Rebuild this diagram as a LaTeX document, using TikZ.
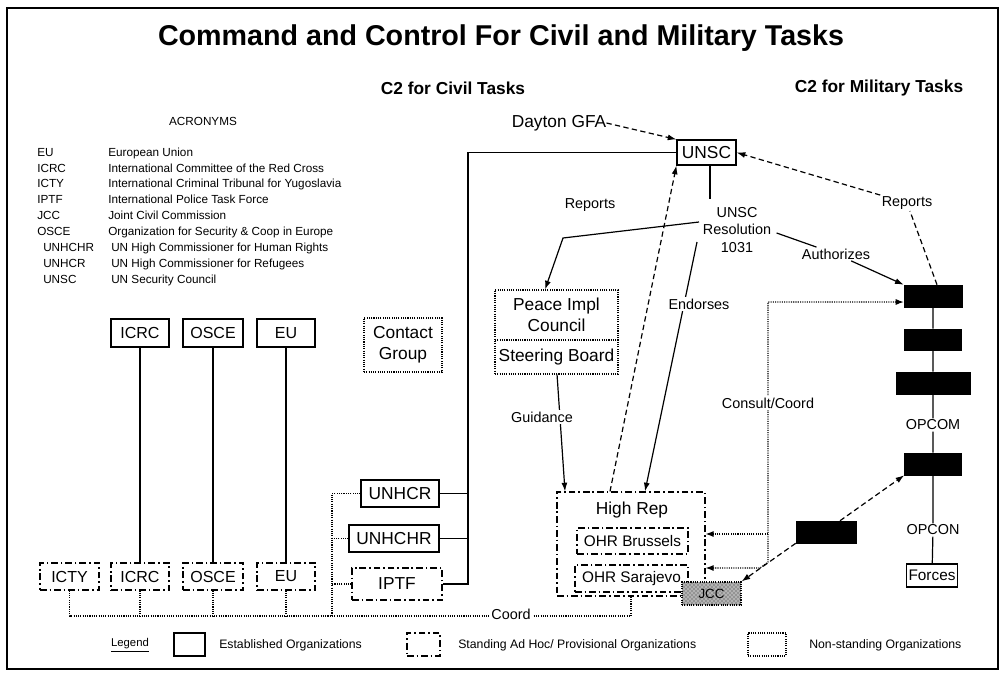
\documentclass[tikz,border=0pt]{standalone}
\usepackage{fontspec}
\setmainfont{Liberation Sans}
\usetikzlibrary{arrows.meta,patterns}
\begin{document}
\begin{tikzpicture}[x=0.75pt,y=-0.75pt,
  sz/.style 2 args={minimum width=#1*0.75pt, minimum height=#2*0.75pt},
  lbl/.style={inner sep=0pt, font=\fontsize{13}{15.6}\selectfont, align=center},
  sm/.style={inner sep=1pt, font=\fontsize{10.8}{13.1}\selectfont, align=center},
  acr/.style={inner sep=0pt, anchor=base west, font=\fontsize{8.8}{10}\selectfont},
  leg/.style={inner sep=0pt, anchor=west, font=\fontsize{9.2}{11}\selectfont},
  box/.style={draw, line width=0.9pt, inner sep=0pt, align=center, font=\fontsize{13}{15.6}\selectfont},
  est/.style={box},
  adhoc/.style={box, dash pattern=on 5pt off 2.2pt on 1.2pt off 2.2pt},
  nonst/.style={box, line width=0.8pt, dash pattern=on 0.8pt off 0.9pt},
  blk/.style={draw, fill=black, inner sep=0pt},
  link/.style={line width=0.9pt},
  arr/.style={-{Latex[length=6.5pt,width=4.5pt]}},
  dsh/.style={line width=0.9pt, dash pattern=on 4pt off 2.5pt},
  dots/.style={line width=0.8pt, dash pattern=on 0.8pt off 0.9pt}
]
\useasboundingbox (0,0) rectangle (1002,675);
\draw[line width=2.2pt] (7,8) rectangle (998,669);

% titles
\node[inner sep=0pt, font=\fontsize{21.5}{26}\selectfont\bfseries] (title) at (501,38) {Command and Control For Civil and Military Tasks};
\node[inner sep=0pt, font=\fontsize{13}{16}\selectfont\bfseries] (civ) at (453,88) {C2 for Civil Tasks};
\node[inner sep=0pt, font=\fontsize{13}{16}\selectfont\bfseries] (mil) at (879,88) {C2 for Military Tasks};

% acronyms
\node[inner sep=0pt, font=\fontsize{8.8}{10}\selectfont] (acrh) at (203,121) {ACRONYMS};
\node[acr] (a1) at (37,156) {EU};      \node[acr] (d1) at (108,156) {European Union};
\node[acr] (a2) at (37,172) {ICRC};    \node[acr] (d2) at (108,172) {International Committee of the Red Cross};
\node[acr] (a3) at (37,187) {ICTY};    \node[acr] (d3) at (108,187) {International Criminal Tribunal for Yugoslavia};
\node[acr] (a4) at (37,203) {IPTF};    \node[acr] (d4) at (108,203) {International Police Task Force};
\node[acr] (a5) at (37,219) {JCC};     \node[acr] (d5) at (108,219) {Joint Civil Commission};
\node[acr] (a6) at (37,235) {OSCE};    \node[acr] (d6) at (108,235) {Organization for Security \& Coop in Europe};
\node[acr] (a7) at (43,251) {UNHCHR};  \node[acr] (d7) at (111,251) {UN High Commissioner for Human Rights};
\node[acr] (a8) at (43,267) {UNHCR};   \node[acr] (d8) at (111,267) {UN High Commissioner for Refugees};
\node[acr] (a9) at (43,283) {UNSC};    \node[acr] (d9) at (111,283) {UN Security Council};

% civil boxes
\node[est, sz={59}{25}] (unsc) at (706.5,152.5) {UNSC};
\node[lbl] (dayton) at (559,123) {Dayton GFA};
\node[sm] (repC) at (590,205) {Reports};
\node[sm, inner sep=0pt] (res) at (737,230) {UNSC\\Resolution\\1031};

\node[est, sz={58}{28}, font=\fontsize{12}{14}\selectfont] (icrcT) at (140,333) {ICRC};
\node[est, sz={60}{28}, font=\fontsize{12}{14}\selectfont] (osceT) at (213,333) {OSCE};
\node[est, sz={58}{28}, font=\fontsize{12}{14}\selectfont] (euT) at (286,333) {EU};
\node[nonst, sz={78}{54}] (contact) at (403,345) {Contact\\Group};

\node[adhoc, sz={59}{27}, font=\fontsize{12}{14}\selectfont] (icty) at (69.5,576.5) {ICTY};
\node[adhoc, sz={58}{27}, font=\fontsize{12}{14}\selectfont] (icrcB) at (140,576.5) {ICRC};
\node[adhoc, sz={60}{27}, font=\fontsize{12}{14}\selectfont] (osceB) at (213,576.5) {OSCE};
\node[adhoc, sz={58}{27}, font=\fontsize{12}{14}\selectfont] (euB) at (286,576.5) {EU};

\node[est, sz={78}{27}] (unhcr) at (400,493.5) {UNHCR};
\node[est, sz={90}{27}] (unhchr) at (394,538.5) {UNHCHR};
\node[adhoc, sz={90}{32}] (iptf) at (397,584) {IPTF};

\node[nonst, sz={123}{50}] (pic1) at (556.5,315) {Peace Impl\\Council};
\node[nonst, sz={123}{34}] (pic2) at (556.5,357) {Steering Board};

\node[adhoc, sz={148}{104}] (highrep) at (631,544) {};
\node[lbl] (hrt) at (632,510) {High Rep};
\node[adhoc, sz={111}{26}, font=\fontsize{11.5}{14}\selectfont] (ohrb) at (632.5,541) {OHR Brussels};
\node[adhoc, sz={113}{27}, font=\fontsize{11.5}{14}\selectfont] (ohrs) at (631.5,578.5) {OHR Sarajevo};
\node[draw, line width=0.8pt, dash pattern=on 0.8pt off 0.9pt, preaction={fill=black!30}, pattern=crosshatch dots, pattern color=black!80, sz={59}{23}, inner sep=0pt, font=\fontsize{10}{12}\selectfont] (jcc) at (711.5,593.5) {JCC};

% military
\node[blk, sz={58}{22}] (b1) at (933,296) {};
\node[blk, sz={57}{21}] (b2) at (933,339.5) {};
\node[blk, sz={74}{22}] (b3) at (933,383) {};
\node[sm] (opcom) at (933,425) {OPCOM};
\node[blk, sz={57}{22}] (b4) at (933,464) {};
\node[sm] (opcon) at (933,530) {OPCON};
\node[est, sz={51}{23}, font=\fontsize{11.5}{14}\selectfont] (forces) at (932,575.5) {Forces};
\node[blk, sz={60}{22}] (b5) at (826,532) {};
\node[sm] (repM) at (907,203) {Reports};
\node[sm] (auth) at (836,254) {Authorizes};

% connectors: civil
\draw[dsh,arr] (dayton.east) -- (unsc.north west);
\coordinate (vbus) at (468,584);
\draw[link] (unsc.west) -| (vbus) -- (iptf.east);
\draw[link] (unhcr.east) -- (unhcr.east -| vbus);
\draw[link] (unhchr.east) -- (unhchr.east -| vbus);
\draw[link] ([xshift=2.6pt]unsc.south) -- ([xshift=2.6pt]unsc.south |- 0,199);

\coordinate (resW1) at (699,222);
\coordinate (bend1) at (563,238);
\draw[link,arr] (resW1) -- (bend1) -- ([xshift=-8.6pt]pic1.north);

\coordinate (resW2) at (697,242);
\draw[link,arr] (resW2) -- ([xshift=10.5pt]highrep.north);
\node[sm, fill=white, inner sep=1.5pt] (endo) at (699,304) {Endorses};

\draw[dsh,arr] ([xshift=-15.75pt]highrep.north) -- (unsc.south west);

\draw[link,arr] ([xshift=0.4pt]pic2.south) -- ([xshift=-49.5pt]highrep.north);
\node[sm, fill=white, inner sep=1.5pt] (guid) at (542,417) {Guidance};

\foreach \n in {icrc,osce,eu}{\draw[link] (\n T.south) -- (\n T.south |- \n B.north);}

% coord
\coordinate (cy) at (0,616);
\coordinate (vd) at (332,493);
\draw[dots] (icty.south) -- (icty.south |- cy) -- (highrep.south |- cy) -- (highrep.south);
\foreach \n in {icrcB,osceB,euB}{\draw[dots] (\n.south) -- (\n.south |- cy);}
\draw[dots] (unhcr.west) -- (unhcr.west -| vd) -- (vd |- cy);
\draw[dots] (unhchr.west) -- (unhchr.west -| vd);
\draw[dots] (iptf.west) -- (iptf.west -| vd);
\node[sm, fill=white, inner xsep=2pt, inner ysep=0pt] (coord) at (511,614) {Coord};

% military connectors
\draw[link] (b1) -- (b2) -- (b3) -- (opcom) -- (b4) -- (opcon) -- (forces);
\draw[link,arr] ([xshift=4pt]res.east |- 0,233) -- (auth) -- (b1.north west);
\draw[dsh,arr] ([xshift=3pt]b1.north) -- (repM) -- (unsc.east);
\draw[dsh,arr] ([xshift=10.5pt]b5.north) -- (b4.south west);
\draw[dsh,arr] (b5.south west) -- (jcc.north east);

\coordinate (cc1) at (768,302);
\coordinate (cc2) at (768,562);
\coordinate (cc3) at (760,568);
\coordinate (cc4) at (768,534);
\draw[dots,{Latex[length=6pt,width=4.5pt]}-{Latex[length=6pt,width=4.5pt]}] (b1.west |- cc1) -- (cc1) -- (cc2) -- (cc3) -- (highrep.east |- cc3);
\draw[dots,-{Latex[length=6pt,width=4.5pt]}] (cc4) -- (highrep.east |- cc4);
\node[sm, fill=white, inner sep=1.5pt] (cons) at (768,403) {Consult/Coord};

% legend
\node[inner sep=0pt, font=\fontsize{8.5}{10}\selectfont] (legend) at (130,645) {\underline{Legend}};
\node[est, sz={31}{23}] (lgE) at (189.5,644.5) {};
\node[leg] (lgEt) at (219,645) {Established Organizations};
\node[adhoc, sz={33}{23}] (lgS) at (423.5,644.5) {};
\node[leg] (lgSt) at (458,645) {Standing Ad Hoc/ Provisional Organizations};
\node[nonst, sz={38}{23}] (lgN) at (767,644.5) {};
\node[leg] (lgNt) at (809,645) {Non-standing Organizations};
\end{tikzpicture}
\end{document}
